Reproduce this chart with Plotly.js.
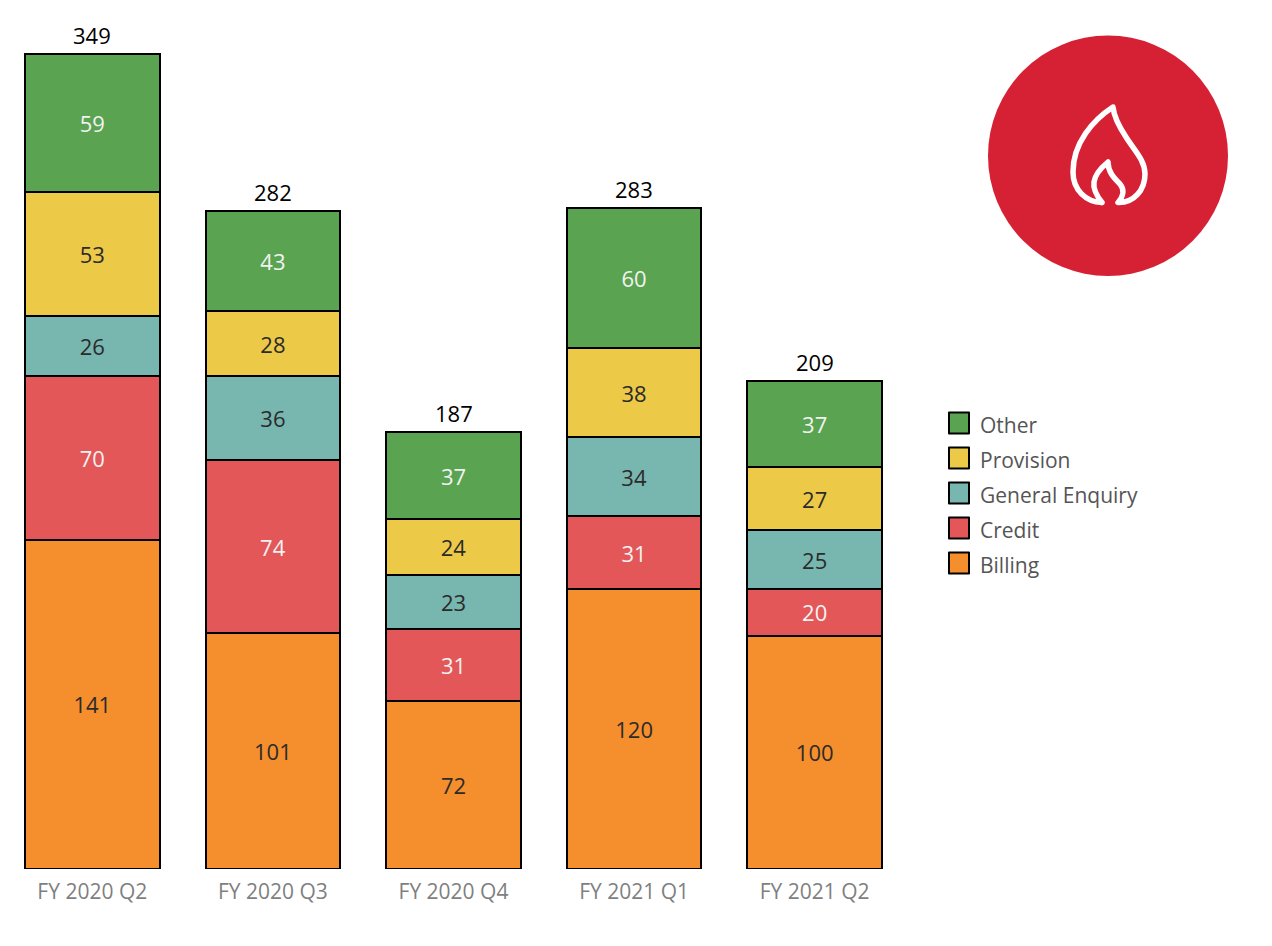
<!DOCTYPE html>
<html><head><meta charset="utf-8">
<script src="https://cdn.plot.ly/plotly-3.0.1.min.js"></script>
<style>html,body{margin:0;padding:0;background:#fff}.shapelayer path{stroke-linejoin:round;stroke-linecap:round}</style>
</head><body><div id="chart" style="width:1272px;height:946px"></div>
<script>
const quarters = ["FY 2020 Q2","FY 2020 Q3","FY 2020 Q4","FY 2021 Q1","FY 2021 Q2"];
const billing = [141,101,72,120,100];
const credit = [70,74,31,31,20];
const generalEnquiry = [26,36,23,34,25];
const provision = [53,28,24,38,27];
const other = [59,43,37,60,37];
const totals = [349,282,187,283,209];
const seriesNames = ["Billing","Credit","General Enquiry","Provision","Other"];
const seriesValues = [billing,credit,generalEnquiry,provision,other];
const seriesColors = ["#F58E2C","#E35759","#78B6B0","#EDC948","#5AA351"];
const labelColors = ["#2B2B2B","#F2F2F2","#2B2B2B","#2B2B2B","#F2F2F2"];

const W=1272,H=946,L=2,R=367,T=20,B=77;
const FONT='"Open Sans", sans-serif';
const fx=p=>(p-L)/(W-L-R), fy=p=>1-(p-T)/(H-T-B);
const P=(cmd,...a)=>cmd+a.map((v,i)=>(i%2?fy(v):fx(v)).toFixed(5)).join(' ');

const traces=seriesNames.map((n,i)=>({type:'bar',name:n,x:quarters,y:seriesValues[i],
  text:seriesValues[i].map(String),textposition:'inside',insidetextanchor:'middle',textangle:0,
  insidetextfont:{family:FONT,size:22,color:labelColors[i]},
  marker:{color:seriesColors[i],line:{color:'#000',width:2}},hoverinfo:'x+y+name'}));

const shapes=[], annotations=[];
quarters.forEach((q,i)=>annotations.push({xref:'x',yref:'y',x:q,y:totals[i],yanchor:'bottom',yshift:2,showarrow:false,
  text:String(totals[i]),font:{family:FONT,size:22,color:'#000'}}));
[...seriesNames].reverse().forEach((n,k)=>{
  const i=seriesNames.length-1-k, cy=423+k*35;
  shapes.push({type:'rect',xref:'paper',yref:'paper',x0:fx(949),x1:fx(969),y0:fy(cy-10.5),y1:fy(cy+10.5),
    fillcolor:seriesColors[i],line:{color:'#000',width:2}});
  annotations.push({xref:'paper',yref:'paper',x:fx(980),y:fy(cy+1.5),xanchor:'left',yanchor:'middle',showarrow:false,
    text:n,font:{family:FONT,size:21,color:'#555555'},xshift:-2});
});
shapes.push({type:'circle',xref:'paper',yref:'paper',x0:fx(988),x1:fx(1228),y0:fy(35.5),y1:fy(276),fillcolor:'#D62135',line:{width:0}});
const flame=[P('M',1102,202.5),
  P('C',1096,195,1093,189,1094,182),P('C',1095,174,1102,167,1108,162),
  P('C',1108,172,1114,178,1120,184),P('C',1125,190,1123,197,1118,202.5),
  P('C',1134,203,1145,190,1145,174),P('C',1145,160,1134,150,1126,137),
  P('C',1120,128,1114,117,1113,107),P('C',1093,120,1073,143,1073,172),
  P('C',1073,190,1086,202,1102,202.5)].join(' ');
shapes.push({type:'path',xref:'paper',yref:'paper',path:flame,fillcolor:'rgba(0,0,0,0)',line:{color:'#fff',width:5.5}});

Plotly.newPlot('chart',traces,{
  width:W,height:H,barmode:'stack',bargap:0.255,showlegend:false,
  margin:{l:L,r:R,t:T,b:B,pad:0},paper_bgcolor:'#fff',plot_bgcolor:'#fff',
  font:{family:FONT},
  xaxis:{type:'category',range:[-0.5,4.5],showgrid:false,zeroline:false,showline:false,ticks:'',
    ticklabelstandoff:8,tickfont:{family:FONT,size:21,color:'#7F7F7F'}},
  yaxis:{range:[0,363.6],visible:false,showgrid:false,zeroline:false},
  shapes,annotations
},{displayModeBar:false,staticPlot:true});
</script></body></html>
